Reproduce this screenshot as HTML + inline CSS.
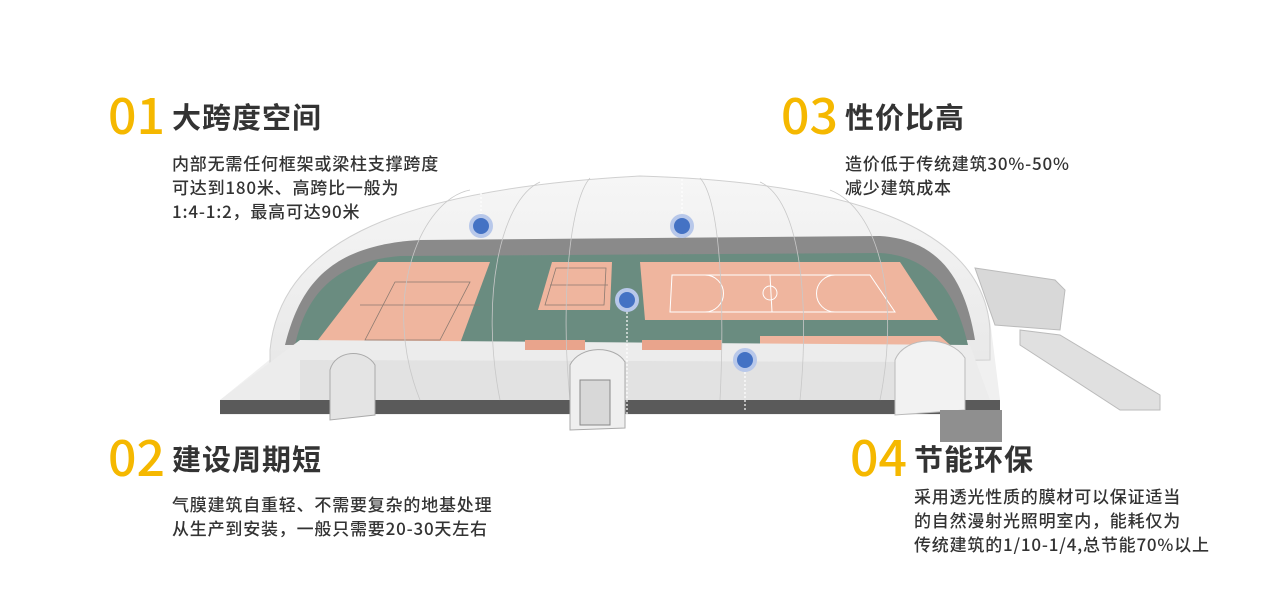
<!DOCTYPE html>
<html><head><meta charset="utf-8"><style>
body{margin:0;width:1286px;height:595px;background:#fff;position:relative;overflow:hidden;font-family:"Liberation Sans","Noto Sans CJK SC",sans-serif;}
.n{position:absolute;color:#f5b800;font-size:50px;line-height:50px;font-family:"Noto Sans CJK SC",sans-serif;font-weight:500;}
.t{position:absolute;color:#333;font-size:29px;line-height:32px;letter-spacing:1px;font-family:"Noto Sans CJK SC",sans-serif;font-weight:700;}
.b{position:absolute;color:#333;font-size:17px;line-height:24px;letter-spacing:0.8px;font-family:"Noto Sans CJK SC",sans-serif;font-weight:500;white-space:nowrap;}
svg{position:absolute;left:0;top:0}
</style></head><body>
<svg width="1286" height="595" viewBox="0 0 1286 595">
<defs><linearGradient id="dm" x1="0" y1="0" x2="0" y2="1"><stop offset="0" stop-color="#f6f6f6"/><stop offset="1" stop-color="#e8e8e8"/></linearGradient></defs>
<polygon points="220,400 300,335 990,320 1000,400 1000,415 220,415" fill="#f0f0f0"/>
<rect x="220" y="400" width="780" height="14" fill="#5a5a5a"/>
<path d="M270,350 C280,250 380,190 640,176 C880,183 985,240 990,330 L990,360 L270,370 Z" fill="url(#dm)" stroke="#d0d0d0"/>
<path d="M285,345 C300,285 330,245 420,240 L880,236 C940,240 965,280 975,340 Z" fill="#8a8a8a"/>
<path d="M295,345 C305,300 330,262 400,256 L880,253 C930,256 955,290 968,345 Z" fill="#6a8c80"/>
<polygon points="318,340 378,262 490,262 455,357" fill="#efb59e"/>
<polygon points="538,310 552,262 612,262 610,310" fill="#efb59e"/>
<polygon points="640,262 900,262 938,320 645,320" fill="#efb59e"/>
<polygon points="760,336 940,336 965,358 760,358" fill="#efb59e"/>
<g stroke="#8b7a70" fill="none" stroke-width="0.8">
<polygon points="365,340 395,282 470,282 440,340"/><line x1="360" y1="305" x2="480" y2="305"/>
<polygon points="545,305 556,268 606,268 604,305"/><line x1="550" y1="285" x2="608" y2="285"/>
</g>
<g stroke="#fff" fill="none" stroke-width="1">
<polygon points="672,275 870,275 895,312 670,312"/><line x1="770" y1="275" x2="772" y2="312"/>
<circle cx="770" cy="293" r="7"/><path d="M705,275 a18 18 0 0 1 0 37"/><path d="M835,275 a18 18 0 0 0 0 37"/>
</g>
<path d="M300,340 L970,345 L990,400 L220,400 Z" fill="#ececec"/>
<path d="M300,360 L935,362 L935,400 L300,400 Z" fill="#e2e2e2"/>
<g fill="#e9a48c"><rect x="525" y="340" width="60" height="10"/><rect x="642" y="340" width="80" height="10"/></g>
<g stroke="#c8c8c8" fill="none" stroke-width="0.8">
<path d="M420,400 C380,300 420,200 470,190"/><path d="M500,400 C480,300 500,200 540,182"/><path d="M570,400 C560,300 570,200 590,178"/><path d="M720,400 C725,300 720,200 700,178"/><path d="M800,400 C810,300 800,200 760,182"/><path d="M880,400 C900,300 880,210 830,190"/>
</g>
<path d="M330,420 L330,370 C335,350 365,348 375,365 L375,415 Z" fill="#e4e4e4" stroke="#aaa"/>
<path d="M570,430 L570,365 C580,345 615,345 625,362 L625,428 Z" fill="#efefef" stroke="#aaa"/>
<rect x="580" y="380" width="30" height="45" fill="#d8d8d8" stroke="#888"/>
<path d="M895,415 L895,360 C905,335 950,335 965,358 L965,410 Z" fill="#f2f2f2" stroke="#bbb"/>
<rect x="940" y="410" width="62" height="32" fill="#8f8f8f"/>
<polygon points="975,268 1055,280 1065,290 1060,330 995,325" fill="#d8d8d8" stroke="#bbb"/>
<polygon points="1020,330 1060,335 1160,395 1160,410 1120,410 1020,345" fill="#e0e0e0" stroke="#bbb"/>
<g stroke="#fff" stroke-dasharray="2,2" stroke-width="1.2">
<line x1="481" y1="185" x2="481" y2="214"/><line x1="682" y1="175" x2="682" y2="214"/><line x1="627" y1="312" x2="627" y2="432"/><line x1="745" y1="372" x2="745" y2="410"/>
</g>
<g fill="#4472c4" stroke="#b8c8ea" stroke-width="4">
<circle cx="481" cy="226" r="10"/><circle cx="682" cy="226" r="10"/><circle cx="627" cy="300" r="10"/><circle cx="745" cy="360" r="10"/>
</g>
</svg>
<div class="n" style="left:108px;top:88px">01</div><div class="t" style="left:172px;top:100px">大跨度空间</div>
<div class="b" style="left:172px;top:151px">内部无需任何框架或梁柱支撑跨度<br>可达到180米、高跨比一般为<br>1:4-1:2，最高可达90米</div>
<div class="n" style="left:781px;top:88px">03</div><div class="t" style="left:845px;top:100px">性价比高</div>
<div class="b" style="left:845px;top:151px">造价低于传统建筑30%-50%<br>减少建筑成本</div>
<div class="n" style="left:108px;top:430px">02</div><div class="t" style="left:172px;top:442px">建设周期短</div>
<div class="b" style="left:172px;top:492px">气膜建筑自重轻、不需要复杂的地基处理<br>从生产到安装，一般只需要20-30天左右</div>
<div class="n" style="left:850px;top:430px">04</div><div class="t" style="left:914px;top:442px">节能环保</div>
<div class="b" style="left:914px;top:484px">采用透光性质的膜材可以保证适当<br>的自然漫射光照明室内，能耗仅为<br>传统建筑的1/10-1/4,总节能70%以上</div>
</body></html>
